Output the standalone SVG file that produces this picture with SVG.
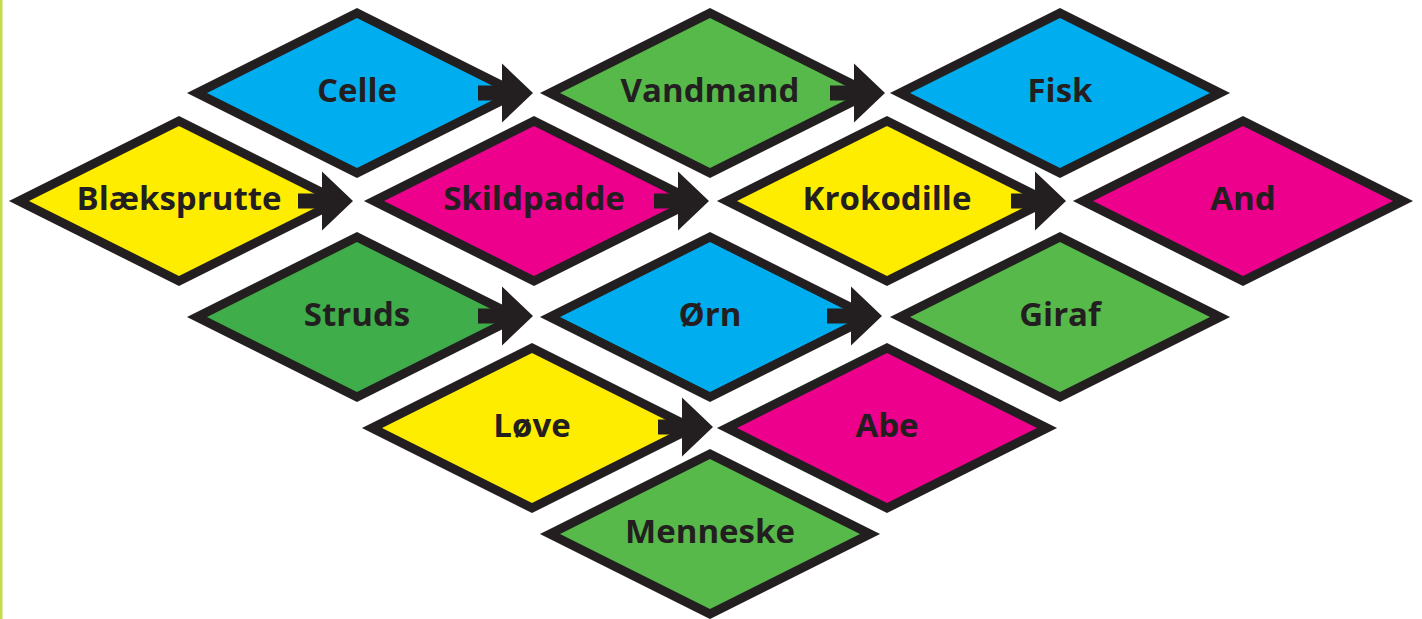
<svg xmlns="http://www.w3.org/2000/svg" width="1422" height="619" viewBox="0 0 1422 619">
<defs>
<style>
.d{stroke:#231F20;stroke-width:9;stroke-linejoin:miter;stroke-miterlimit:10}
.blue{fill:#00AEEF}.green{fill:#58B94B}.dgreen{fill:#3FAE4A}.yellow{fill:#FFED00}.pink{fill:#EC008C}
.t{font-family:"Open Sans","Liberation Sans",sans-serif;font-weight:700;font-size:33px;fill:#231F20;text-anchor:middle}
.a{fill:#231F20}
</style>
<polygon id="dia" points="-160,0 0,-80 160,0 0,80"/>
<path id="arr" d="M-55,-7.5 H-31 V-29.5 L0,0 L-31,29.5 V7.5 H-55 Z"/>
</defs>
<rect x="0" y="0" width="1422" height="619" fill="#FFFFFF"/>
<rect x="0" y="0" width="2.5" height="619" fill="#C2DC4C"/>
<g id="nodes">
<g id="n-celle" transform="translate(357,93)"><use href="#dia" class="d blue"/><text class="t" y="9">Celle</text></g>
<g id="n-vandmand" transform="translate(710,93)"><use href="#dia" class="d green"/><text class="t" y="9">Vandmand</text></g>
<g id="n-fisk" transform="translate(1060,93)"><use href="#dia" class="d blue"/><text class="t" y="9">Fisk</text></g>
<g id="n-blaeksprutte" transform="translate(179,201)"><use href="#dia" class="d yellow"/><text class="t" y="9">Blæksprutte</text></g>
<g id="n-skildpadde" transform="translate(534,201)"><use href="#dia" class="d pink"/><text class="t" y="9">Skildpadde</text></g>
<g id="n-krokodille" transform="translate(887,201)"><use href="#dia" class="d yellow"/><text class="t" y="9">Krokodille</text></g>
<g id="n-and" transform="translate(1243,201)"><use href="#dia" class="d pink"/><text class="t" y="9">And</text></g>
<g id="n-struds" transform="translate(357,317)"><use href="#dia" class="d dgreen"/><text class="t" y="9">Struds</text></g>
<g id="n-orn" transform="translate(710,317)"><use href="#dia" class="d blue"/><text class="t" y="9">Ørn</text></g>
<g id="n-giraf" transform="translate(1060,317)"><use href="#dia" class="d green"/><text class="t" y="9">Giraf</text></g>
<g id="n-love" transform="translate(532,428)"><use href="#dia" class="d yellow"/><text class="t" y="9">Løve</text></g>
<g id="n-abe" transform="translate(887,428)"><use href="#dia" class="d pink"/><text class="t" y="9">Abe</text></g>
<g id="n-menneske" transform="translate(710,534)"><use href="#dia" class="d green"/><text class="t" y="9">Menneske</text></g>
</g>
<g id="connectors">
<use href="#arr" class="a" x="533" y="93"/>
<use href="#arr" class="a" x="885" y="93"/>
<use href="#arr" class="a" x="353" y="201"/>
<use href="#arr" class="a" x="709" y="201"/>
<use href="#arr" class="a" x="1066" y="201"/>
<use href="#arr" class="a" x="533" y="316"/>
<use href="#arr" class="a" x="882" y="316"/>
<use href="#arr" class="a" x="713" y="427"/>
</g>
</svg>
